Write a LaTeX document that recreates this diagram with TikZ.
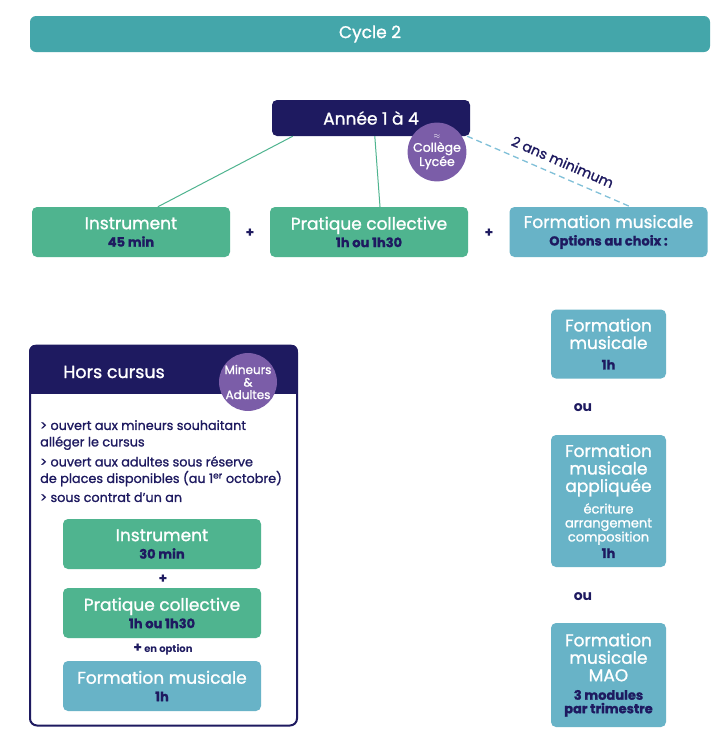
\documentclass[tikz,border=0pt]{standalone}
\usepackage{fontspec}
\setmainfont{Poppins}
\newfontfamily\pmed{Poppins}[FakeBold=1.2]
\usetikzlibrary{backgrounds}
\definecolor{cteal}{HTML}{44A6AA}
\definecolor{cnavy}{HTML}{1E1A60}
\definecolor{cgreen}{HTML}{4FB48F}
\definecolor{cblue}{HTML}{68B3C7}
\definecolor{cpurple}{HTML}{7B5DA8}
\definecolor{cdash}{HTML}{80C0D8}
\newcommand{\fs}[2]{\fontsize{#1}{#2}\selectfont}
\newcommand{\subt}[1]{{\fs{13}{14}\bfseries\color{cnavy}#1}}
\newcommand{\smallw}[1]{{\fs{13}{14}\pmed #1}}
\begin{document}
\begin{tikzpicture}[x=1pt,y=-1pt,
  boxbase/.style={rounded corners=5pt, inner sep=0pt, align=center, text=white},
  greenbox/.style={boxbase, fill=cgreen},
  bluebox/.style={boxbase, fill=cblue},
  wide/.style={minimum width=198pt, minimum height=50pt, font=\pmed\fs{17}{17.5}},
  narrow/.style={minimum width=115pt, font=\pmed\fs{17}{17.5}},
  badge/.style={circle, fill=cpurple, text=white, align=center, inner sep=0pt},
  greenline/.style={draw=cgreen, line width=1pt},
  dashline/.style={draw=cdash, line width=1.3pt, dash pattern=on 6pt off 4pt},
  plus/.style={text=cnavy, font=\fs{14}{14}\bfseries},
  orlabel/.style={text=cnavy, font=\fs{14}{14}\bfseries}
]
\useasboundingbox (0,0) rectangle (725,742);
\fill[white] (0,0) rectangle (725,742);

\node[fill=cteal, rounded corners=6pt, minimum width=680pt, minimum height=36pt, text=white, font=\pmed\fs{17}{17}] (cycle) at (370,34) {Cycle 2};

\node[fill=cnavy, rounded corners=5pt, minimum width=198pt, minimum height=36pt, text=white, font=\pmed\fs{17}{17}] (annee) at (371,118) {Année 1 à 4};

% top row
\node[greenbox, wide] (instr) at (131,232) {Instrument\\\subt{45 min}};
\node[greenbox, wide] (prat) at (369,232) {Pratique collective\\\subt{1h ou 1h30}};
\node[bluebox, wide] (fmtop) at (608.5,232) {Formation musicale\\\subt{Options au choix :}};
\node[plus] (p1) at (250,233) {+};
\node[plus] (p2) at (489,233) {+};

% right column
\node[bluebox, narrow, minimum height=69pt] (fm1) at (608.5,344) {Formation\\musicale\\[3pt]\subt{1h}};
\node[orlabel] (ou1) at (583,408) {ou};
\node[bluebox, narrow, minimum height=132pt] (fma) at (608.5,501) {Formation\\musicale\\appliquée\\[4pt]\smallw{écriture}\\[-3.5pt]\smallw{arrangement}\\[-3.5pt]\smallw{composition}\\[-1pt]\subt{1h}};
\node[orlabel] (ou2) at (583,597) {ou};
\node[bluebox, narrow, minimum height=104pt] (mao) at (608.5,675) {Formation\\musicale\\MAO\\[1pt]\subt{3 modules}\\[-4pt]\subt{par trimestre}};

\begin{pgfonlayer}{background}
\draw[dashline] (fmtop.south) -- (mao.north);
\end{pgfonlayer}

% connectors from annee
\draw[greenline] ([xshift=21pt]annee.south west) -- ([xshift=126pt]instr.north west);
\draw[greenline] ([xshift=103pt]annee.south west) -- ([xshift=11pt]prat.north);
\draw[dashline] ([xshift=-3pt]annee.south east) -- ([xshift=22pt]fmtop.north)
  node[pos=0.55, above=5pt, sloped, text=cnavy, font=\pmed\fs{14}{14}] (lbl) {2 ans minimum};

\node[badge, minimum size=49pt, font=\pmed\fs{12.5}{13}] (cl) at (437,152) {{\fs{8}{6}$\approx$}\\Collège\\Lycée};

% hors cursus
\node[draw=cnavy, line width=2pt, rounded corners=7pt, minimum width=267pt, minimum height=380pt, inner sep=0pt] (hc) at (163.5,535.5) {};
\begin{scope}
\clip[rounded corners=7pt] (hc.north west) rectangle (hc.south east);
\fill[cnavy] (hc.north west) rectangle ([yshift=-49pt]hc.north east);
\end{scope}
\node[text=white, font=\pmed\fs{17.5}{17.5}] (hct) at (114,372) {Hors cursus};
\node[badge, minimum size=50pt, font=\pmed\fs{12}{12.5}] (ma) at (248,382) {Mineurs\\\&\\Adultes};

\node[anchor=north west, align=left, text=cnavy, inner sep=0pt, font=\pmed\fs{12.8}{16.5}] (bul) at (40,420) {> ouvert aux mineurs souhaitant\\alléger le cursus\\[3.5pt]> ouvert aux adultes sous réserve\\de places disponibles (au 1\textsuperscript{er} octobre)\\[2.5pt]> sous contrat d’un an};

\node[greenbox, wide] (hinstr) at (162,544) {Instrument\\\subt{30 min}};
\node[plus] (hp1) at (163,579) {+};
\node[greenbox, wide] (hprat) at (162,613) {Pratique collective\\\subt{1h ou 1h30}};
\node[text=cnavy, font=\fs{10}{10}\bfseries] (hp2) at (163,650) {{\fs{14}{14}+} en option};
\node[bluebox, wide] (hfm) at (162,686) {Formation musicale\\\subt{1h}};
\end{tikzpicture}
\end{document}
